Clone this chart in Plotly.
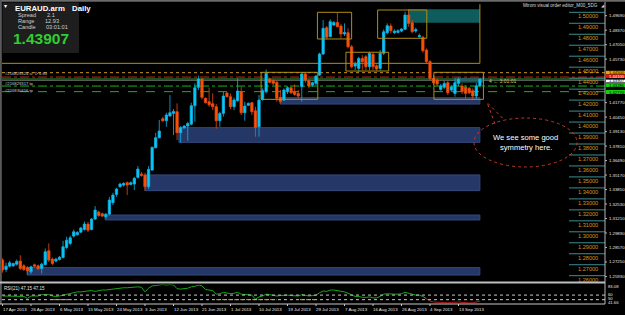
import plotly.graph_objects as go

W, H = 625, 315

# ---------------- data ----------------
opens = [1.2743, 1.2657, 1.2687, 1.2690, 1.2705, 1.2733, 1.2690, 1.2675, 1.2635, 1.2699,
         1.2690, 1.2666, 1.2702, 1.2827, 1.2751, 1.2733, 1.2748, 1.2766, 1.2857, 1.2894,
         1.2961, 1.2973, 1.2997, 1.3021, 1.3070, 1.3021, 1.3116, 1.3180, 1.3164, 1.3137,
         1.3161, 1.3265, 1.3341, 1.3411, 1.3426, 1.3447, 1.3432, 1.3435, 1.3496, 1.3526,
         1.3517, 1.3411, 1.3563, 1.3766, 1.3857, 1.4030, 1.4012, 1.4055, 1.4079, 1.4094,
         1.3903, 1.3945, 1.3963, 1.3981, 1.4149, 1.4316, 1.4392, 1.4216, 1.4185, 1.4167,
         1.4140, 1.4012, 1.4079, 1.4264, 1.4231, 1.4140, 1.4195, 1.4277, 1.4085, 1.4152,
         1.4176, 1.4103, 1.3957, 1.4207, 1.4276, 1.4392, 1.4377, 1.4362, 1.4225, 1.4200,
         1.4276, 1.4313, 1.4276, 1.4261, 1.4322, 1.4438, 1.4377, 1.4337, 1.4353, 1.4428,
         1.4620, 1.4860, 1.4778, 1.4884, 1.4908, 1.4875, 1.4802, 1.4814, 1.4686, 1.4510,
         1.4489, 1.4580, 1.4595, 1.4504, 1.4617, 1.4513, 1.4489, 1.4626, 1.4814, 1.4875,
         1.4814, 1.4817, 1.4829, 1.4845, 1.4975, 1.4905, 1.4829, 1.4778, 1.4772, 1.4656,
         1.4550, 1.4398, 1.4383, 1.4297, 1.4316, 1.4358, 1.4291, 1.4261, 1.4352, 1.4328,
         1.4316, 1.4307, 1.4285, 1.4237, 1.4328]
highs = [1.2758, 1.2718, 1.2736, 1.2718, 1.2748, 1.2787, 1.2705, 1.2687, 1.2690, 1.2711,
         1.2702, 1.2718, 1.2848, 1.2894, 1.2766, 1.2763, 1.2781, 1.2918, 1.2955, 1.2964,
         1.3021, 1.3006, 1.3046, 1.3094, 1.3091, 1.3125, 1.3234, 1.3192, 1.3174, 1.3170,
         1.3319, 1.3356, 1.3401, 1.3447, 1.3453, 1.3459, 1.3459, 1.3502, 1.3599, 1.3547,
         1.3538, 1.3599, 1.3775, 1.3903, 1.4018, 1.4049, 1.4085, 1.4246, 1.4119, 1.4170,
         1.3963, 1.3972, 1.4003, 1.4176, 1.4353, 1.4422, 1.4398, 1.4225, 1.4313, 1.4261,
         1.4164, 1.4094, 1.4277, 1.4274, 1.4261, 1.4222, 1.4398, 1.4322, 1.4185, 1.4179,
         1.4185, 1.4140, 1.4246, 1.4307, 1.4480, 1.4404, 1.4389, 1.4377, 1.4292, 1.4307,
         1.4328, 1.4322, 1.4343, 1.4292, 1.4450, 1.4450, 1.4389, 1.4368, 1.4428, 1.4632,
         1.4930, 1.4875, 1.4936, 1.4920, 1.4997, 1.4893, 1.4899, 1.4854, 1.4702, 1.4550,
         1.4595, 1.4610, 1.4610, 1.4641, 1.4632, 1.4525, 1.4656, 1.4845, 1.4899, 1.4899,
         1.4845, 1.4845, 1.4857, 1.5006, 1.5027, 1.4930, 1.4860, 1.4808, 1.4784, 1.4671,
         1.4565, 1.4428, 1.4395, 1.4346, 1.4374, 1.4374, 1.4337, 1.4398, 1.4407, 1.4352,
         1.4334, 1.4322, 1.4307, 1.4358, 1.4398]
lows = [1.2628, 1.2632, 1.2675, 1.2681, 1.2693, 1.2651, 1.2642, 1.2611, 1.2614, 1.2675,
        1.2651, 1.2620, 1.2693, 1.2724, 1.2696, 1.2721, 1.2739, 1.2757, 1.2845, 1.2876,
        1.2948, 1.2967, 1.2988, 1.3012, 1.2997, 1.3012, 1.3107, 1.3137, 1.3134, 1.3119,
        1.3149, 1.3243, 1.3319, 1.3401, 1.3411, 1.3335, 1.3423, 1.3380, 1.3484, 1.3502,
        1.3374, 1.3389, 1.3555, 1.3760, 1.3851, 1.4000, 1.3957, 1.4049, 1.3881, 1.3836,
        1.3811, 1.3942, 1.3830, 1.3969, 1.4003, 1.4292, 1.4207, 1.4170, 1.4140, 1.4109,
        1.3939, 1.3957, 1.4049, 1.4222, 1.4116, 1.4109, 1.4185, 1.4064, 1.4012, 1.4146,
        1.4064, 1.3866, 1.3866, 1.4194, 1.4261, 1.4353, 1.4337, 1.4185, 1.4170, 1.4191,
        1.4255, 1.4255, 1.4240, 1.4216, 1.4185, 1.4359, 1.4307, 1.4322, 1.4337, 1.4419,
        1.4610, 1.4753, 1.4772, 1.4875, 1.4863, 1.4763, 1.4784, 1.4671, 1.4489, 1.4474,
        1.4458, 1.4474, 1.4474, 1.4474, 1.4474, 1.4468, 1.4468, 1.4610, 1.4799, 1.4808,
        1.4802, 1.4808, 1.4817, 1.4839, 1.4869, 1.4808, 1.4814, 1.4768, 1.4632, 1.4534,
        1.4383, 1.4337, 1.4328, 1.4285, 1.4303, 1.4246, 1.4273, 1.4231, 1.4328, 1.4255,
        1.4215, 1.4252, 1.4200, 1.4212, 1.4316]
closes = [1.2652, 1.2687, 1.2718, 1.2711, 1.2730, 1.2666, 1.2657, 1.2645, 1.2681, 1.2687,
          1.2663, 1.2705, 1.2818, 1.2742, 1.2711, 1.2751, 1.2769, 1.2863, 1.2924, 1.2945,
          1.3000, 1.2994, 1.3034, 1.3070, 1.3015, 1.3116, 1.3198, 1.3149, 1.3143, 1.3161,
          1.3289, 1.3335, 1.3389, 1.3435, 1.3441, 1.3426, 1.3447, 1.3487, 1.3572, 1.3514,
          1.3411, 1.3569, 1.3770, 1.3857, 1.3918, 1.4012, 1.4064, 1.4085, 1.4097, 1.3903,
          1.3948, 1.3963, 1.3987, 1.4149, 1.4313, 1.4392, 1.4225, 1.4176, 1.4158, 1.4140,
          1.4012, 1.4079, 1.4237, 1.4231, 1.4140, 1.4201, 1.4283, 1.4085, 1.4146, 1.4170,
          1.4094, 1.3951, 1.4200, 1.4286, 1.4444, 1.4362, 1.4353, 1.4216, 1.4188, 1.4292,
          1.4313, 1.4267, 1.4252, 1.4237, 1.4438, 1.4383, 1.4328, 1.4359, 1.4419, 1.4620,
          1.4854, 1.4772, 1.4915, 1.4908, 1.4869, 1.4802, 1.4817, 1.4686, 1.4504, 1.4528,
          1.4580, 1.4550, 1.4504, 1.4626, 1.4504, 1.4483, 1.4626, 1.4823, 1.4878, 1.4832,
          1.4829, 1.4832, 1.4848, 1.4975, 1.4899, 1.4823, 1.4842, 1.4787, 1.4650, 1.4550,
          1.4398, 1.4358, 1.4346, 1.4328, 1.4352, 1.4267, 1.4322, 1.4358, 1.4389, 1.4276,
          1.4261, 1.4267, 1.4237, 1.4328, 1.4391]
bars = list(range(len(opens)))

rsi_values = [58, 58, 58, 58, 57, 57, 57, 53, 58, 58,
              58, 61, 61, 61, 58, 57, 58, 60, 62, 64,
              66, 67, 67, 68, 69, 70, 68, 70, 71, 71,
              72, 74, 75, 75, 76, 76, 77, 77, 78, 77,
              67, 75, 80, 81, 82, 83, 82, 83, 82, 74,
              73, 74, 75, 78, 79, 82, 80, 72, 71, 70,
              62, 63, 66, 65, 63, 64, 66, 62, 61, 61,
              60, 51, 56, 58, 62, 61, 60, 58, 59, 60,
              60, 59, 58, 58, 61, 59, 58, 59, 60, 65,
              69, 68, 71, 71, 70, 68, 67, 64, 61, 57,
              57, 55, 55, 56, 54, 54, 57, 62, 63, 62,
              62, 62, 63, 66, 64, 61, 60, 60, 57, 52,
              47, 45, 44, 44, 44, 43, 44, 45, 45, 44,
              43, 43, 43, 45, 47.15]
rsi_red_from = 119

date_bars = [0, 8, 16, 24, 32, 40, 48, 56, 64, 72, 80, 88, 96, 104, 112, 120, 128]
date_labels = ["17 Apr 2013", "26 Apr 2013", "6 May 2013", "15 May 2013", "24 May 2013",
               "3 Jun 2013", "12 Jun 2013", "21 Jun 2013", "1 Jul 2013", "10 Jul 2013",
               "19 Jul 2013", "29 Jul 2013", "7 Aug 2013", "16 Aug 2013", "26 Aug 2013",
               "4 Sep 2013", "13 Sep 2013"]

grid_prices = [1.50, 1.49, 1.48, 1.47, 1.46, 1.45, 1.44, 1.43, 1.42, 1.41, 1.40, 1.39,
               1.38, 1.37, 1.36, 1.35, 1.34, 1.33, 1.32, 1.31, 1.30, 1.29, 1.28, 1.27, 1.26]
grid_texts = ["1.50000", "1.49000", "1.48000", "1.47000", "1.46000", "1.45000", "1.44000",
              "1.43000", "1.42000", "1.41000", "1.40000", "1.39000", "1.38000", "1.37000",
              "1.36000", "1.35000", "1.34000", "1.33000", "1.32000", "1.31000", "1.30000",
              "1.29000", "1.28000", "1.27000", "1.26000"]

axis_prices = [1.4969, 1.4837, 1.4705, 1.4573, 1.4177, 1.4045, 1.3913, 1.3781, 1.3649,
               1.3517, 1.3385, 1.3253, 1.3121, 1.2989, 1.2857, 1.2725, 1.2593]
axis_texts = ["1.49690", "1.48370", "1.47050", "1.45730", "1.41770", "1.40450", "1.39130",
              "1.37810", "1.36490", "1.35170", "1.33850", "1.32530", "1.31210", "1.29890",
              "1.28570", "1.27250", "1.25930"]

# support zones (start bar, end bar, low price, high price)
zone_start = [49.5, 40.0, 28.8, 6.9, 77.9]
zone_end = [134.0, 134.0, 134.0, 134.0, 134.0]
zone_low = [1.3815, 1.3375, 1.3108, 1.2606, 1.4164]
zone_high = [1.3949, 1.3518, 1.3153, 1.2674, 1.4222]

# pattern boxes (start bar, end bar, low, high)
box_start = [88.4, 96.4, 105.3, 72.6, 121.1]
box_end = [98.0, 108.4, 119.1, 88.5, 135.0]
box_low = [1.4757, 1.4465, 1.4763, 1.4207, 1.4207]
box_high = [1.5000, 1.4636, 1.5021, 1.4453, 1.4453]

# order / level lines
sl_price = 1.4450
red_price = 1.4410
bid_price = 1.43907
tp1_price = 1.4328
tp2_price = 1.4277
big_box_low = 1.4535

rsi_levels = [60, 50]
rsi_min, rsi_max = 41.66, 83.08

# ---------------- geometry helpers ----------------
def PX(px):
    return px / W

def PY(py):
    return 1 - py / H

X0 = -0.1404
X1 = X0 + 603 / 3.5625
P_HI = 1.50 + 10.3 / 1097.5
P_LO = 1.50 - (282 - 12.3) / 1097.5

FONT = "Liberation Sans, Arial, sans-serif"

fig = go.Figure()

fig.add_trace(go.Candlestick(
    x=bars, open=opens, high=highs, low=lows, close=closes,
    increasing=dict(line=dict(color="#10B2E4", width=0.8), fillcolor="#00CCFF"),
    decreasing=dict(line=dict(color="#E84A10", width=0.8), fillcolor="#FF5200"),
    whiskerwidth=0, xaxis="x", yaxis="y", hoverinfo="skip", showlegend=False))

fig.add_trace(go.Scatter(x=bars[:rsi_red_from + 1], y=rsi_values[:rsi_red_from + 1],
                         mode="lines", line=dict(color="#14A814", width=1),
                         xaxis="x2", yaxis="y2", hoverinfo="skip", showlegend=False))
fig.add_trace(go.Scatter(x=bars[rsi_red_from:], y=rsi_values[rsi_red_from:],
                         mode="lines", line=dict(color="#B01818", width=1),
                         xaxis="x2", yaxis="y2", hoverinfo="skip", showlegend=False))

shapes = []
ann = []

def text(x, y, s, size, color, xanchor="left", bold=False, xref="paper", yref="paper",
         yshift=0, font=FONT):
    if bold:
        s = "<b>" + s + "</b>"
    ann.append(dict(x=x, y=y, xref=xref, yref=yref, text=s, showarrow=False,
                    xanchor=xanchor, yanchor="middle", yshift=yshift, borderpad=0,
                    font=dict(family=font, size=size, color=color)))

# zones
for xs, xe, lo, hi in zip(zone_start, zone_end, zone_low, zone_high):
    shapes.append(dict(type="rect", xref="x", yref="y", x0=xs, x1=xe, y0=lo, y1=hi,
                       fillcolor="#243766", line=dict(color="#34497C", width=1), layer="below"))

# teal target rectangle and spread zone
shapes.append(dict(type="rect", xref="x", yref="y", x0=113.8, x1=134.0, y0=1.4905, y1=1.5027,
                   fillcolor="#0F5C5C", line=dict(width=0), layer="below"))
shapes.append(dict(type="rect", xref="x", yref="y", x0=127.0, x1=135.0, y0=1.4359, y1=1.4404,
                   fillcolor="#1E6464", line=dict(width=0), layer="below", opacity=0.8))

# horizontal order lines
def hline(price, color, dash, width=1, layer="below"):
    shapes.append(dict(type="line", xref="paper", yref="y", x0=PX(2), x1=PX(605),
                       y0=price, y1=price, line=dict(color=color, width=width, dash=dash),
                       layer=layer))

hline(sl_price, "#C8961E", "dot")
hline(red_price, "#D02020", "dashdot")
hline(bid_price + 0.0002, "#2E8B2E", "solid")
hline(bid_price - 0.0010, "#6E7A6E", "solid")
hline(tp1_price, "#12B812", "dashdot")
hline(tp2_price, "#12B812", "dash")

# big gold frame
shapes.append(dict(type="line", xref="x", yref="y", x0=X0, x1=134.0, y0=big_box_low,
                   y1=big_box_low, line=dict(color="#B08E14", width=1), layer="below"))
shapes.append(dict(type="line", xref="x", yref="y", x0=134.0, x1=134.0, y0=big_box_low,
                   y1=P_HI - 0.002, line=dict(color="#B08E14", width=1), layer="below"))
for xs, xe, lo, hi in zip(box_start, box_end, box_low, box_high):
    shapes.append(dict(type="rect", xref="x", yref="y", x0=xs, x1=xe, y0=lo, y1=hi,
                       line=dict(color="#B08E14", width=1), layer="above"))

# visual order editor price grid (orange labels)
for p, s in zip(grid_prices, grid_texts):
    shapes.append(dict(type="line", xref="paper", yref="y", x0=PX(569), x1=PX(605), y0=p, y1=p,
                       line=dict(color="#3E8E8E", width=1)))
    text(PX(587.5), p, s, 5.6, "#D8961A", xanchor="center", yref="y", yshift=-4)

# frame lines
shapes.append(dict(type="rect", xref="paper", yref="paper", x0=0, x1=1, y0=PY(1.8), y1=1,
                   fillcolor="#6A6A6A", line=dict(width=0)))
shapes.append(dict(type="rect", xref="paper", yref="paper", x0=0, x1=PX(1.8), y0=PY(304), y1=1,
                   fillcolor="#5A5A5A", line=dict(width=0)))
shapes.append(dict(type="line", xref="paper", yref="paper", x0=PX(605), x1=PX(605),
                   y0=PY(304), y1=PY(2), line=dict(color="#B4B4B4", width=1)))
shapes.append(dict(type="line", xref="paper", yref="paper", x0=0, x1=PX(605),
                   y0=PY(282.5), y1=PY(282.5), line=dict(color="#BEBEBE", width=2)))
shapes.append(dict(type="line", xref="paper", yref="paper", x0=0, x1=PX(605),
                   y0=PY(304), y1=PY(304), line=dict(color="#C8C8C8", width=1)))

# right axis labels
for p, s in zip(axis_prices, axis_texts):
    shapes.append(dict(type="line", xref="paper", yref="y", x0=PX(605), x1=PX(607), y0=p, y1=p,
                       line=dict(color="#B4B4B4", width=1)))
    text(PX(607.5), p, s, 4.3, "#E6E6E6", yref="y")

# highlighted price tags on the axis
tags = [(70.8, 74.3, "#F0A000", "1.44500", "black"),
        (74.5, 77.9, "#F01010", "1.44100", "white"),
        (79.6, 82.4, "#FFFFFF", "1.43907", "black"),
        (83.2, 87.0, "#10D010", "1.43280", "black"),
        (90.0, 94.0, "#10D010", "1.42770", "black")]
for y0, y1, col, s, tc in tags:
    shapes.append(dict(type="rect", xref="paper", yref="paper", x0=PX(606), x1=PX(625),
                       y0=PY(y1), y1=PY(y0), fillcolor=col, line=dict(width=0)))
    text(PX(607.5), PY((y0 + y1) / 2), s, 4.2, tc)

# RSI levels
for lv in rsi_levels:
    shapes.append(dict(type="line", xref="paper", yref="y2", x0=PX(2), x1=PX(605), y0=lv, y1=lv,
                       line=dict(color="#C8C8C8", width=1, dash="dot")))
for xs, xe in [(14.2, 19.5), (60, 77), (83.5, 88.6)]:
    shapes.append(dict(type="line", xref="x2", yref="y2", x0=xs, x1=xe, y0=50, y1=50,
                       line=dict(color="#D8A020", width=1, dash="dot")))
text(PX(3), PY(288.8), "RSI(21) 47.15 47.15", 4.5, "#E6E6E6")
text(PX(607), PY(286.3), f"{rsi_max:.2f}", 4.2, "#E6E6E6")
text(PX(607), PY(294.6), "60", 4.2, "#E6E6E6")
text(PX(607), PY(298.6), "50", 4.2, "#E6E6E6")
text(PX(607), PY(302.4), f"{rsi_min:.2f}", 4.2, "#E6E6E6")

# date axis labels
for b, s in zip(date_bars, date_labels):
    ann.append(dict(x=b, y=PY(309.5), xref="x2", yref="paper", text=s, showarrow=False,
                    xanchor="left", yanchor="middle", xshift=-1, borderpad=0,
                    font=dict(family=FONT, size=4.4, color="#E6E6E6")))
    shapes.append(dict(type="line", xref="x2", yref="paper", x0=b, x1=b, y0=PY(304), y1=PY(306),
                       line=dict(color="#C8C8C8", width=1)))

# info panel (top-left)
shapes.append(dict(type="rect", xref="paper", yref="paper", x0=PX(2.5), x1=PX(79), y0=PY(53),
                   y1=PY(2.5), fillcolor="#1E1E1E", line=dict(width=0)))
text(PX(3), PY(5.5), "▾", 6, "#FFFFFF")
text(PX(13.5), PY(8), "EURAUD.arm", 7.8, "#FFFFFF", bold=True)
text(PX(71), PY(8), "Daily", 7.8, "#FFFFFF", bold=True)
text(PX(17), PY(15), "Spread", 5.6, "#CFCFCF")
text(PX(46), PY(15), "2.1", 5.6, "#CFCFCF")
text(PX(17), PY(21), "Range", 5.6, "#CFCFCF")
text(PX(44), PY(21), "12.93", 5.6, "#CFCFCF")
text(PX(17), PY(27), "Candle", 5.6, "#CFCFCF")
text(PX(45), PY(27), "03:01:01", 5.6, "#CFCFCF")
text(PX(12), PY(38.5), "1.43907", 15.5, "#32CD32", bold=True)

# top-right caption
text(PX(599), PY(5.5), "Mtrom visual order editor_M00_5DG", 4.6, "#DADADA", xanchor="right")
text(PX(600), PY(5.5), "◢", 4.3, "#DADADA")

# order labels at the left
text(PX(4), PY(73.5), "#216829324 sl  ᐅ 6.85", 4.2, "#C8C8C8")
text(PX(4), PY(83.5), "#216829317 tp", 4.2, "#C8C8C8")
text(PX(4), PY(90.2), "#216830416 tp", 4.2, "#C8C8C8")
text(PX(488), PY(81.2), "4 ← 3:01:01", 5, "#D6C850")

# speech bubble
shapes.append(dict(type="circle", xref="paper", yref="paper", x0=PX(474), x1=PX(577),
                   y0=PY(167), y1=PY(118), line=dict(color="#C0392B", width=1, dash="dot")))
shapes.append(dict(type="path", xref="paper", yref="paper",
                   path=f"M {PX(495)},{PY(124)} L {PX(487)},{PY(102.5)} L {PX(504)},{PY(119.5)}",
                   line=dict(color="#C0392B", width=1, dash="dot")))
text(PX(525.5), PY(137.5), "We see some good", 7.6, "#FFFFFF", xanchor="center")
text(PX(525.5), PY(147.5), "symmetry here.", 7.6, "#FFFFFF", xanchor="center")

fig.update_layout(
    width=W, height=H, margin=dict(l=0, r=0, t=0, b=0),
    paper_bgcolor="black", plot_bgcolor="black", showlegend=False,
    boxgap=0.35, boxgroupgap=0,
    xaxis=dict(domain=[PX(2), PX(605)], range=[X0, X1], visible=False,
               rangeslider=dict(visible=False), fixedrange=True),
    yaxis=dict(domain=[PY(282), PY(2)], range=[P_LO, P_HI], visible=False, fixedrange=True),
    xaxis2=dict(domain=[PX(2), PX(605)], range=[X0, X1], visible=False, anchor="y2",
                fixedrange=True),
    yaxis2=dict(domain=[PY(303.5), PY(284.5)], range=[rsi_min, rsi_max], visible=False,
                anchor="x2", fixedrange=True),
    shapes=shapes, annotations=ann,
)

fig.write_html("out.html")
